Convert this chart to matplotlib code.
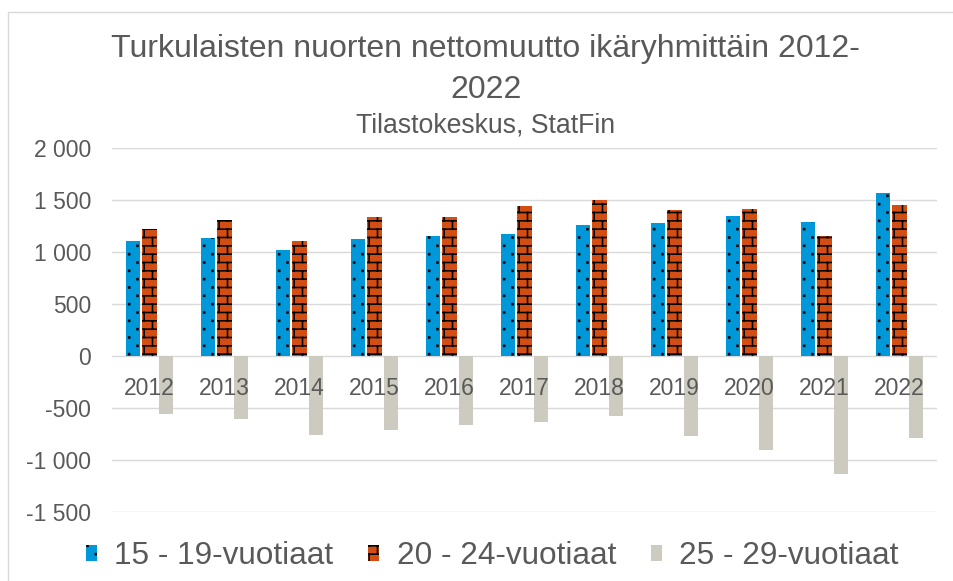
import warnings

import matplotlib

matplotlib.use("Agg")
import matplotlib.hatch as mhatch
import matplotlib.pyplot as plt
import numpy as np
from matplotlib.patches import Rectangle
from matplotlib.path import Path
from matplotlib.ticker import FuncFormatter, MultipleLocator

warnings.filterwarnings("ignore", message=".*hatch.*")

YEARS = ["2012", "2013", "2014", "2015", "2016", "2017",
         "2018", "2019", "2020", "2021", "2022"]
AGE_15_19 = [1107, 1139, 1020, 1123, 1152, 1171, 1261, 1280, 1344, 1293, 1572]
AGE_20_24 = [1219, 1309, 1107, 1338, 1338, 1444, 1501, 1405, 1415, 1155, 1449]
AGE_25_29 = [-555, -609, -760, -712, -667, -635, -574, -767, -905, -1136, -789]
SERIES_LABELS = ["15 - 19-vuotiaat", "20 - 24-vuotiaat", "25 - 29-vuotiaat"]

TITLE = "Turkulaisten nuorten nettomuutto ikäryhmittäin 2012-\n2022"
SUBTITLE = "Tilastokeskus, StatFin"

TEXT_COLOR = "#595959"
GRID_COLOR = "#D9D9D9"


# Excelin kuviot: tiilimuuri ja harvat pisteet omina hatch-tyyppeinä
class BrickHatch(mhatch.HatchPatternBase):
    def __init__(self, hatch, density):
        n = int(hatch.count("b") * density)
        verts = []
        codes = []
        if n:
            s = 1.0 / n
            for j in range(n):
                for yy in (j * s + 0.25 * s, j * s + 0.75 * s):
                    verts += [(0.0, yy), (1.0, yy)]
                    codes += [Path.MOVETO, Path.LINETO]
                for i in range(n):
                    x0 = i * s + 0.15 * s
                    verts += [(x0, j * s + 0.25 * s), (x0, j * s + 0.75 * s)]
                    codes += [Path.MOVETO, Path.LINETO]
                    x1 = i * s + 0.65 * s
                    y_lo = j * s + 0.75 * s
                    y_hi = y_lo + 0.5 * s
                    if y_hi > 1.0:
                        verts += [(x1, y_lo), (x1, 1.0), (x1, 0.0), (x1, y_hi - 1.0)]
                        codes += [Path.MOVETO, Path.LINETO, Path.MOVETO, Path.LINETO]
                    else:
                        verts += [(x1, y_lo), (x1, y_hi)]
                        codes += [Path.MOVETO, Path.LINETO]
        self._verts = np.array(verts, dtype=float).reshape(-1, 2)
        self._codes = np.array(codes, dtype=Path.code_type)
        self.num_vertices = len(codes)

    def set_vertices_and_codes(self, vertices, codes):
        vertices[:] = self._verts
        codes[:] = self._codes


class DotHatch(mhatch.HatchPatternBase):
    def __init__(self, hatch, density):
        n = int(hatch.count("d") * density)
        verts = []
        codes = []
        h = 0.005
        for r in range(2 * n):
            y = (r + 0.5) / (2 * n)
            for c in range(n):
                x = (c + 0.25 + 0.5 * (r % 2)) / n
                verts += [(x - h, y - h), (x + h, y - h), (x + h, y + h),
                          (x - h, y + h), (x - h, y - h)]
                codes += [Path.MOVETO, Path.LINETO, Path.LINETO,
                          Path.LINETO, Path.CLOSEPOLY]
        self._verts = np.array(verts, dtype=float).reshape(-1, 2)
        self._codes = np.array(codes, dtype=Path.code_type)
        self.num_vertices = len(codes)

    def set_vertices_and_codes(self, vertices, codes):
        vertices[:] = self._verts
        codes[:] = self._codes


mhatch._hatch_types.append(BrickHatch)
mhatch._hatch_types.append(DotHatch)


def muotoile(arvo, _pos):
    return f"{arvo:,.0f}".replace(",", " ")


def main() -> None:
    plt.rcParams["font.family"] = ["Liberation Sans", "DejaVu Sans"]
    plt.rcParams["hatch.linewidth"] = 1.15

    fig = plt.figure(figsize=(9.54, 5.81), dpi=100)
    ax = fig.add_axes([112 / 954, 69 / 581, 825 / 954, 364 / 581])

    x = np.arange(len(YEARS))
    leveys = 0.19
    siirto = 0.222

    ax.bar(x - siirto, AGE_15_19, leveys, color="#0098D8",
           edgecolor="black", linewidth=0, hatch="d",
           label=SERIES_LABELS[0])
    ax.bar(x, AGE_20_24, leveys, color="#D24E15",
           edgecolor="black", linewidth=0, hatch="b",
           label=SERIES_LABELS[1])
    ax.bar(x + siirto, AGE_25_29, leveys, color="#CDCBBF",
           edgecolor="none", linewidth=0, label=SERIES_LABELS[2])

    ax.set_xlim(-0.5, len(YEARS) - 0.5)
    ax.set_ylim(-1500, 2000)
    ax.yaxis.set_major_locator(MultipleLocator(500))
    ax.yaxis.set_major_formatter(FuncFormatter(muotoile))
    ax.set_xticks(x, YEARS)

    for puoli in ax.spines.values():
        puoli.set_visible(False)
    ax.spines["bottom"].set_position(("data", 0))

    ax.yaxis.grid(True, color=GRID_COLOR, linewidth=1.0)
    ax.set_axisbelow(True)
    ax.xaxis.set_zorder(3)

    ax.tick_params(axis="x", length=0, pad=15, labelsize=16.5,
                   labelcolor=TEXT_COLOR)
    ax.tick_params(axis="y", length=0, pad=15, labelsize=16.5,
                   labelcolor=TEXT_COLOR)

    fig.text(0.509, 1 - 98 / 581, TITLE, ha="center", va="baseline",
             fontsize=23, color=TEXT_COLOR, linespacing=1.5,
             multialignment="center")
    fig.text(0.509, 1 - 132 / 581, SUBTITLE, ha="center", va="baseline",
             fontsize=19.2, color=TEXT_COLOR)

    kahvat, nimet = ax.get_legend_handles_labels()
    fig.legend(kahvat, nimet, loc="center", bbox_to_anchor=(0.516, 0.043),
               ncol=3, frameon=False, fontsize=22.7, handlelength=0.35,
               handleheight=0.4, handletextpad=0.55, columnspacing=1.1,
               labelcolor=TEXT_COLOR)

    # kaavion ohut reunaviiva (rajautuu oikealta ja alhaalta)
    fig.add_artist(Rectangle((8 / 954, -0.1), 2.0, 1.1 - 12 / 581,
                             transform=fig.transFigure, fill=False,
                             edgecolor=GRID_COLOR, linewidth=1.0))

    fig.savefig("out.png", dpi=100)
    plt.close(fig)


if __name__ == "__main__":
    main()
